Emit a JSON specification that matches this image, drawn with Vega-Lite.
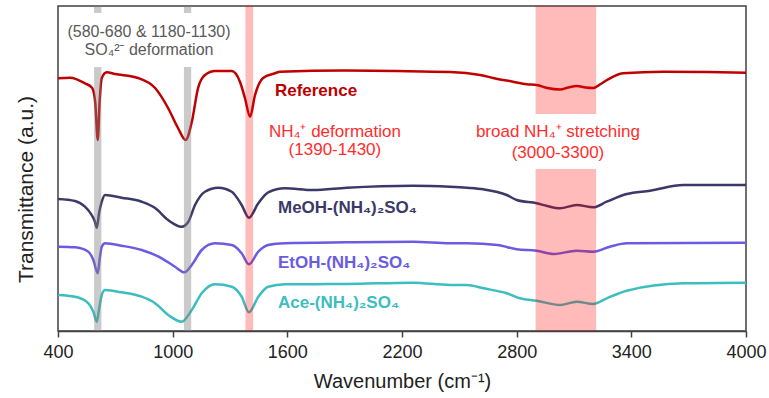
{
  "$schema": "https://vega.github.io/schema/vega-lite/v6.json",
  "width": 688,
  "height": 325,
  "autosize": {"type": "none"},
  "padding": {"left": 58, "top": 6, "right": 23, "bottom": 67},
  "background": "white",
  "config": {
    "font": "Liberation Sans",
    "view": {"stroke": "#404040", "strokeWidth": 1.5}
  },
  "datasets": {
    "spectra": [
      {"series": "Reference", "w": 400, "t": 252.7},
      {"series": "Reference", "w": 463, "t": 253.3},
      {"series": "Reference", "w": 541, "t": 247.7},
      {"series": "Reference", "w": 579, "t": 243},
      {"series": "Reference", "w": 595, "t": 228},
      {"series": "Reference", "w": 608, "t": 191},
      {"series": "Reference", "w": 618, "t": 230},
      {"series": "Reference", "w": 629, "t": 253},
      {"series": "Reference", "w": 655, "t": 258.7},
      {"series": "Reference", "w": 698, "t": 257},
      {"series": "Reference", "w": 819, "t": 253},
      {"series": "Reference", "w": 908, "t": 243},
      {"series": "Reference", "w": 976, "t": 223},
      {"series": "Reference", "w": 1028, "t": 203},
      {"series": "Reference", "w": 1068, "t": 191},
      {"series": "Reference", "w": 1100, "t": 209},
      {"series": "Reference", "w": 1133, "t": 243},
      {"series": "Reference", "w": 1169, "t": 256},
      {"series": "Reference", "w": 1222, "t": 260},
      {"series": "Reference", "w": 1309, "t": 260},
      {"series": "Reference", "w": 1352, "t": 249.3},
      {"series": "Reference", "w": 1378, "t": 233},
      {"series": "Reference", "w": 1405, "t": 214.3},
      {"series": "Reference", "w": 1431, "t": 236},
      {"series": "Reference", "w": 1473, "t": 253},
      {"series": "Reference", "w": 1535, "t": 257.7},
      {"series": "Reference", "w": 1562, "t": 259.3},
      {"series": "Reference", "w": 1900, "t": 260.5},
      {"series": "Reference", "w": 2172, "t": 260},
      {"series": "Reference", "w": 2450, "t": 259},
      {"series": "Reference", "w": 2608, "t": 256},
      {"series": "Reference", "w": 2700, "t": 252},
      {"series": "Reference", "w": 2781, "t": 249.3},
      {"series": "Reference", "w": 2852, "t": 246.7},
      {"series": "Reference", "w": 2905, "t": 246},
      {"series": "Reference", "w": 2960, "t": 243},
      {"series": "Reference", "w": 3027, "t": 241.5},
      {"series": "Reference", "w": 3070, "t": 243.5},
      {"series": "Reference", "w": 3114, "t": 245},
      {"series": "Reference", "w": 3160, "t": 243.5},
      {"series": "Reference", "w": 3199, "t": 243},
      {"series": "Reference", "w": 3240, "t": 247},
      {"series": "Reference", "w": 3273, "t": 251},
      {"series": "Reference", "w": 3356, "t": 257.7},
      {"series": "Reference", "w": 3566, "t": 259.3},
      {"series": "Reference", "w": 3800, "t": 259},
      {"series": "Reference", "w": 4000, "t": 258.3},

      {"series": "MeOH", "w": 400, "t": 132},
      {"series": "MeOH", "w": 489, "t": 130},
      {"series": "MeOH", "w": 541, "t": 124.3},
      {"series": "MeOH", "w": 576, "t": 116},
      {"series": "MeOH", "w": 592, "t": 110},
      {"series": "MeOH", "w": 603, "t": 103.3},
      {"series": "MeOH", "w": 615, "t": 118},
      {"series": "MeOH", "w": 629, "t": 129.3},
      {"series": "MeOH", "w": 646, "t": 136},
      {"series": "MeOH", "w": 733, "t": 133.3},
      {"series": "MeOH", "w": 838, "t": 129.3},
      {"series": "MeOH", "w": 908, "t": 123},
      {"series": "MeOH", "w": 976, "t": 111},
      {"series": "MeOH", "w": 1047, "t": 104.3},
      {"series": "MeOH", "w": 1082, "t": 109.3},
      {"series": "MeOH", "w": 1117, "t": 126},
      {"series": "MeOH", "w": 1169, "t": 139.3},
      {"series": "MeOH", "w": 1239, "t": 143.3},
      {"series": "MeOH", "w": 1309, "t": 139.3},
      {"series": "MeOH", "w": 1361, "t": 126},
      {"series": "MeOH", "w": 1399, "t": 113.3},
      {"series": "MeOH", "w": 1448, "t": 127.7},
      {"series": "MeOH", "w": 1500, "t": 138.7},
      {"series": "MeOH", "w": 1588, "t": 142.7},
      {"series": "MeOH", "w": 1734, "t": 141},
      {"series": "MeOH", "w": 1911, "t": 143.3},
      {"series": "MeOH", "w": 2258, "t": 145.3},
      {"series": "MeOH", "w": 2451, "t": 144.3},
      {"series": "MeOH", "w": 2539, "t": 143.3},
      {"series": "MeOH", "w": 2626, "t": 141.7},
      {"series": "MeOH", "w": 2748, "t": 136},
      {"series": "MeOH", "w": 2800, "t": 131},
      {"series": "MeOH", "w": 2905, "t": 127.7},
      {"series": "MeOH", "w": 2960, "t": 125},
      {"series": "MeOH", "w": 3027, "t": 122.7},
      {"series": "MeOH", "w": 3114, "t": 126},
      {"series": "MeOH", "w": 3201, "t": 123.7},
      {"series": "MeOH", "w": 3271, "t": 129.3},
      {"series": "MeOH", "w": 3376, "t": 137},
      {"series": "MeOH", "w": 3498, "t": 140.3},
      {"series": "MeOH", "w": 3672, "t": 146},
      {"series": "MeOH", "w": 4000, "t": 146},

      {"series": "EtOH", "w": 400, "t": 84.3},
      {"series": "EtOH", "w": 489, "t": 83.7},
      {"series": "EtOH", "w": 559, "t": 79.3},
      {"series": "EtOH", "w": 585, "t": 71},
      {"series": "EtOH", "w": 608, "t": 57.7},
      {"series": "EtOH", "w": 618, "t": 72},
      {"series": "EtOH", "w": 629, "t": 84.3},
      {"series": "EtOH", "w": 646, "t": 87.7},
      {"series": "EtOH", "w": 733, "t": 85.3},
      {"series": "EtOH", "w": 838, "t": 81},
      {"series": "EtOH", "w": 943, "t": 72.7},
      {"series": "EtOH", "w": 1012, "t": 64.3},
      {"series": "EtOH", "w": 1061, "t": 58.7},
      {"series": "EtOH", "w": 1100, "t": 66},
      {"series": "EtOH", "w": 1152, "t": 81},
      {"series": "EtOH", "w": 1222, "t": 87.7},
      {"series": "EtOH", "w": 1309, "t": 86},
      {"series": "EtOH", "w": 1361, "t": 77.7},
      {"series": "EtOH", "w": 1399, "t": 66.7},
      {"series": "EtOH", "w": 1448, "t": 79.3},
      {"series": "EtOH", "w": 1500, "t": 86},
      {"series": "EtOH", "w": 1588, "t": 87.7},
      {"series": "EtOH", "w": 1911, "t": 88.7},
      {"series": "EtOH", "w": 2258, "t": 89.3},
      {"series": "EtOH", "w": 2451, "t": 87.7},
      {"series": "EtOH", "w": 2539, "t": 87.7},
      {"series": "EtOH", "w": 2700, "t": 86},
      {"series": "EtOH", "w": 2800, "t": 81.7},
      {"series": "EtOH", "w": 2905, "t": 80.3},
      {"series": "EtOH", "w": 2992, "t": 77},
      {"series": "EtOH", "w": 3114, "t": 80.3},
      {"series": "EtOH", "w": 3201, "t": 79.3},
      {"series": "EtOH", "w": 3288, "t": 84.3},
      {"series": "EtOH", "w": 3376, "t": 87.7},
      {"series": "EtOH", "w": 4000, "t": 88.3},

      {"series": "Ace", "w": 400, "t": 36},
      {"series": "Ace", "w": 489, "t": 34.3},
      {"series": "Ace", "w": 559, "t": 27.7},
      {"series": "Ace", "w": 585, "t": 19.3},
      {"series": "Ace", "w": 603, "t": 9.3},
      {"series": "Ace", "w": 615, "t": 22},
      {"series": "Ace", "w": 629, "t": 36},
      {"series": "Ace", "w": 646, "t": 41},
      {"series": "Ace", "w": 733, "t": 38.7},
      {"series": "Ace", "w": 838, "t": 34.3},
      {"series": "Ace", "w": 908, "t": 27.7},
      {"series": "Ace", "w": 977, "t": 16},
      {"series": "Ace", "w": 1047, "t": 9.3},
      {"series": "Ace", "w": 1100, "t": 21},
      {"series": "Ace", "w": 1152, "t": 37.7},
      {"series": "Ace", "w": 1222, "t": 46.7},
      {"series": "Ace", "w": 1309, "t": 44.3},
      {"series": "Ace", "w": 1361, "t": 34.3},
      {"series": "Ace", "w": 1399, "t": 18.7},
      {"series": "Ace", "w": 1448, "t": 34.3},
      {"series": "Ace", "w": 1500, "t": 44.3},
      {"series": "Ace", "w": 1588, "t": 46.7},
      {"series": "Ace", "w": 1911, "t": 47},
      {"series": "Ace", "w": 2258, "t": 48.3},
      {"series": "Ace", "w": 2451, "t": 46},
      {"series": "Ace", "w": 2539, "t": 46},
      {"series": "Ace", "w": 2626, "t": 42.7},
      {"series": "Ace", "w": 2748, "t": 37.7},
      {"series": "Ace", "w": 2817, "t": 32.7},
      {"series": "Ace", "w": 2905, "t": 30.3},
      {"series": "Ace", "w": 3027, "t": 26},
      {"series": "Ace", "w": 3114, "t": 29.3},
      {"series": "Ace", "w": 3201, "t": 27},
      {"series": "Ace", "w": 3271, "t": 32.7},
      {"series": "Ace", "w": 3376, "t": 40.3},
      {"series": "Ace", "w": 3672, "t": 47.7},
      {"series": "Ace", "w": 4000, "t": 48.3}
    ],
    "bands": [
      {"kind": "sulfate", "w": 589, "w2": 627, "t": 0, "t2": 264},
      {"kind": "sulfate", "w": 589, "w2": 627, "t": 318, "t2": 325},
      {"kind": "sulfate", "w": 1059, "w2": 1097, "t": 0, "t2": 264},
      {"kind": "sulfate", "w": 1059, "w2": 1097, "t": 318, "t2": 325},
      {"kind": "ammonium", "w": 1381, "w2": 1421, "t": 0, "t2": 325},
      {"kind": "ammonium", "w": 2899, "w2": 3216, "t": 0, "t2": 162},
      {"kind": "ammonium", "w": 2899, "w2": 3216, "t": 217, "t2": 325}
    ],
    "names": [
      {"series": "Reference", "txt": "Reference", "w": 1535, "t": 240},
      {"series": "MeOH", "txt": "MeOH-(NH₄)₂SO₄", "w": 1551, "t": 123.5},
      {"series": "EtOH", "txt": "EtOH-(NH₄)₂SO₄", "w": 1551, "t": 68},
      {"series": "Ace", "txt": "Ace-(NH₄)₂SO₄", "w": 1551, "t": 28}
    ],
    "notes": [
      {"kind": "sulfate", "txt": "(580-680 & 1180-1130)", "w": 876, "t": 299.3},
      {"kind": "sulfate", "txt": "SO₄²⁻ deformation", "w": 876, "t": 281},
      {"kind": "ammonium", "txt": "NH₄⁺ deformation", "w": 1849, "t": 199.3},
      {"kind": "ammonium", "txt": "(1390-1430)", "w": 1849, "t": 181},
      {"kind": "ammonium", "txt": "broad NH₄⁺ stretching", "w": 3016, "t": 199.3},
      {"kind": "ammonium", "txt": "(3000-3300)", "w": 3016, "t": 178}
    ]
  },
  "encoding": {
    "x": {
      "field": "w",
      "type": "quantitative",
      "scale": {"domain": [400, 4000], "nice": false, "zero": false},
      "axis": {
        "values": [400, 1000, 1600, 2200, 2800, 3400, 4000],
        "format": "d",
        "title": "Wavenumber (cm⁻¹)",
        "grid": false,
        "domainColor": "#404040",
        "domainWidth": 1.5,
        "tickColor": "#404040",
        "tickWidth": 1.5,
        "tickSize": 6,
        "labelPadding": 6,
        "labelFontSize": 18,
        "labelColor": "#222222",
        "labelFlush": false,
        "titleFontSize": 20,
        "titleFontWeight": "normal",
        "titleColor": "#222222",
        "titlePadding": 10
      }
    },
    "y": {
      "field": "t",
      "type": "quantitative",
      "scale": {"domain": [0, 325], "nice": false, "zero": false},
      "axis": {
        "title": "Transmittance (a.u.)",
        "labels": false,
        "ticks": false,
        "domain": false,
        "grid": false,
        "titleFontSize": 21,
        "titleFontWeight": "normal",
        "titleColor": "#222222",
        "titlePadding": 22,
        "titleY": 183
      }
    }
  },
  "layer": [
    {
      "data": {"name": "spectra"},
      "mark": {"type": "line", "strokeWidth": 2.5, "interpolate": "monotone"},
      "encoding": {
        "detail": {"field": "series"},
        "color": {
          "field": "series",
          "type": "nominal",
          "scale": {
            "domain": ["Reference", "MeOH", "EtOH", "Ace"],
            "range": ["#c00000", "#3b3968", "#6a5ce2", "#3cbdbf"]
          },
          "legend": null
        }
      }
    },
    {
      "data": {"name": "bands"},
      "transform": [{"filter": "datum.kind === 'sulfate'"}],
      "mark": {"type": "rect", "color": "#808080", "opacity": 0.42},
      "encoding": {"x2": {"field": "w2"}, "y2": {"field": "t2"}}
    },
    {
      "data": {"name": "bands"},
      "transform": [{"filter": "datum.kind === 'ammonium'"}],
      "mark": {"type": "rect", "color": "#ff0000", "opacity": 0.27},
      "encoding": {"x2": {"field": "w2"}, "y2": {"field": "t2"}}
    },
    {
      "data": {"name": "names"},
      "mark": {"type": "text", "align": "left", "baseline": "middle", "fontSize": 17, "fontWeight": "bold"},
      "encoding": {
        "text": {"field": "txt"},
        "color": {"field": "series", "type": "nominal", "legend": null}
      }
    },
    {
      "data": {"name": "notes"},
      "transform": [{"filter": "datum.kind === 'sulfate'"}],
      "mark": {"type": "text", "align": "center", "baseline": "middle", "fontSize": 16, "color": "#5a5a5a"},
      "encoding": {"text": {"field": "txt"}}
    },
    {
      "data": {"name": "notes"},
      "transform": [{"filter": "datum.kind === 'ammonium'"}],
      "mark": {"type": "text", "align": "center", "baseline": "middle", "fontSize": 17, "color": "#ff2d2d"},
      "encoding": {"text": {"field": "txt"}}
    }
  ]
}
